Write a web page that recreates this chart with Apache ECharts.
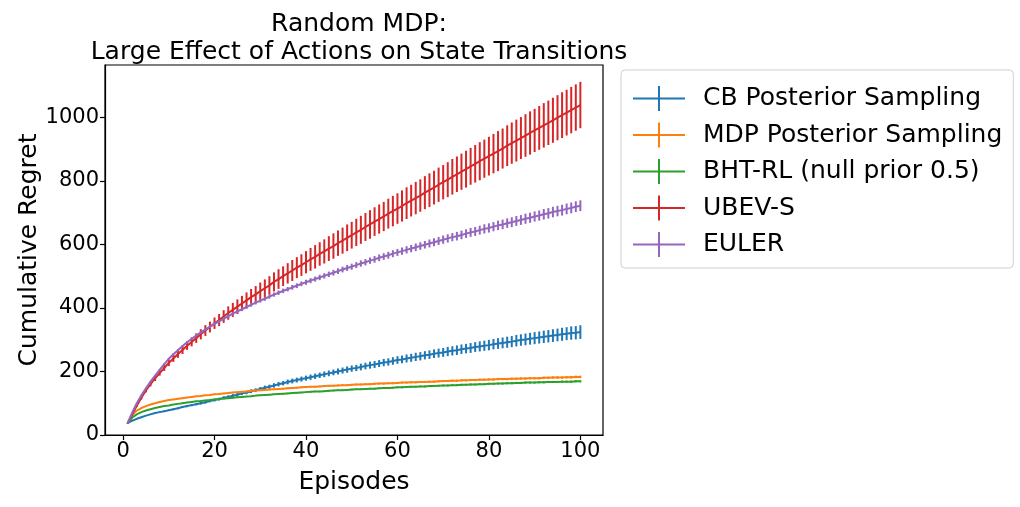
<!DOCTYPE html>
<html>
<head>
<meta charset="utf-8">
<script src="https://cdn.jsdelivr.net/npm/echarts@6/dist/echarts.min.js"></script>
<style>
html,body{margin:0;padding:0;background:#fff;}
#chart{width:1020px;height:507px;}
</style>
</head>
<body>
<div id="chart"></div>
<script>
const episodes = [1,2,3,4,5,6,7,8,9,10,11,12,13,14,15,16,17,18,19,20,21,22,23,24,25,26,27,28,29,30,31,32,33,34,35,36,37,38,39,40,41,42,43,44,45,46,47,48,49,50,51,52,53,54,55,56,57,58,59,60,61,62,63,64,65,66,67,68,69,70,71,72,73,74,75,76,77,78,79,80,81,82,83,84,85,86,87,88,89,90,91,92,93,94,95,96,97,98,99,100];

const seriesNames = ["CB Posterior Sampling","MDP Posterior Sampling","BHT-RL (null prior 0.5)","UBEV-S","EULER"];
const colors = ["#1f77b4","#ff7f0e","#2ca02c","#d62728","#9467bd"];

const cbMean = [37,45,51,56,61,65,69,72,75,78,81,84,88,91,94,97,100,103,107,110,113,117,120,124,127,131,134,138,141,145,149,152,156,160,163,167,170,173,176,179,182,185,188,191,194,197,200,203,206,209,211,214,217,220,222,225,228,230,233,236,238,241,243,246,248,251,253,256,258,260,263,265,267,270,272,274,277,279,281,283,286,288,290,292,294,297,299,301,303,305,307,309,311,313,315,317,319,321,322,324];
const cbErr = [0.5,1,1,1.5,1.5,2,2,2,2.5,2.5,3,3,3,3.5,3.5,3.5,4,4,4,4.5,4.5,5,5,5,5.5,5.5,5.5,6,6,6,6.5,6.5,7,7,7,7.5,7.5,7.5,8,8,8.5,8.5,8.5,9,9,9,9.5,9.5,10,10,10,10.5,10.5,11,11,11,11.5,11.5,12,12,12,12.5,12.5,13,13,13,13.5,13.5,14,14,14.5,14.5,15,15,15,15.5,15.5,16,16,16.5,16.5,17,17,17.5,17.5,18,18,18.5,18.5,19,19,19.5,19.5,20,20,20.5,20.5,21,21,21.5];

const mdpMean = [37,63,77,85,91,96,100,104,107,110,112,114,116,118,120,122,123,125,126,128,129,131,132,134,135,136,137,139,140,141,142,143,144,145,146,147,148,149,150,151,152,152,153,154,155,155,156,157,157,158,159,159,160,160,161,162,162,163,163,164,165,165,166,166,167,167,168,168,169,170,170,171,171,172,172,173,173,174,174,175,175,176,176,176,177,177,178,178,179,179,179,180,180,181,181,181,182,182,183,183];
const mdpErr = [0.5,0.8,1,1,1.2,1.2,1.3,1.4,1.5,1.5,1.6,1.6,1.7,1.7,1.8,1.8,1.9,1.9,2,2,2,2.1,2.1,2.1,2.2,2.2,2.2,2.3,2.3,2.3,2.4,2.4,2.4,2.5,2.5,2.5,2.5,2.6,2.6,2.6,2.6,2.7,2.7,2.7,2.7,2.8,2.8,2.8,2.8,2.9,2.9,2.9,2.9,3,3,3,3,3,3.1,3.1,3.1,3.1,3.2,3.2,3.2,3.2,3.2,3.3,3.3,3.3,3.3,3.4,3.4,3.4,3.4,3.4,3.5,3.5,3.5,3.5,3.5,3.6,3.6,3.6,3.6,3.6,3.7,3.7,3.7,3.7,3.7,3.8,3.8,3.8,3.8,3.8,3.9,3.9,3.9,4];

const bhtMean = [37,55,65,72,77,81,85,88,91,93,96,98,100,102,104,106,107,109,110,112,113,115,116,117,119,120,121,122,124,125,126,127,128,129,130,131,132,133,134,135,136,137,137,138,139,140,141,141,142,143,144,144,145,146,146,147,148,148,149,150,150,151,152,152,153,153,154,154,155,156,156,157,157,158,158,159,159,160,160,161,161,162,162,163,163,164,164,165,165,165,166,166,167,167,167,168,168,168,169,169];
const bhtErr = [0.5,0.7,0.8,0.9,1,1,1.1,1.1,1.2,1.2,1.3,1.3,1.4,1.4,1.5,1.5,1.5,1.6,1.6,1.6,1.7,1.7,1.7,1.8,1.8,1.8,1.9,1.9,1.9,2,2,2,2,2.1,2.1,2.1,2.1,2.2,2.2,2.2,2.2,2.3,2.3,2.3,2.3,2.4,2.4,2.4,2.4,2.5,2.5,2.5,2.5,2.5,2.6,2.6,2.6,2.6,2.6,2.7,2.7,2.7,2.7,2.7,2.8,2.8,2.8,2.8,2.8,2.9,2.9,2.9,2.9,2.9,3,3,3,3,3,3,3.1,3.1,3.1,3.1,3.1,3.2,3.2,3.2,3.2,3.2,3.3,3.3,3.3,3.3,3.3,3.4,3.4,3.4,3.4,3.5];

const ubevMean = [37,65,92,117,140,160,178,195,211,227,241,255,268,281,293,305,317,329,340,352,362,373,384,394,404,414,424,434,443,453,462,471,482,491,500,509,518,527,535,544,553,561,570,578,587,595,604,612,621,629,638,646,655,663,672,680,688,697,705,713,721,730,738,746,754,763,771,779,788,796,804,813,821,829,837,846,854,862,870,878,886,894,902,911,919,927,935,943,951,959,967,975,983,991,999,1007,1015,1023,1031,1039];
const ubevErr = [1,3,4,5,6,7,8,8,9,10,11,12,13,13,14,15,16,17,17,18,19,20,21,22,23,24,25,26,26,27,28,29,30,31,31,32,33,33,34,35,36,37,37,38,39,40,40,41,42,42,43,44,44,45,45,46,46,47,48,48,49,50,50,51,51,52,53,53,54,54,55,56,56,57,58,58,59,60,60,61,62,63,63,64,65,66,66,67,68,68,69,70,70,71,71,72,72,73,73,73];

const eulerMean = [37,70,100,125,147,168,187,205,223,240,254,267,280,292,303,313,323,332,341,350,358,366,374,382,389,396,403,410,417,423,429,436,442,448,454,459,465,470,476,481,486,491,496,501,506,511,516,521,526,530,535,540,544,549,553,558,562,566,571,575,579,583,587,591,595,599,603,607,611,615,619,623,626,630,634,638,641,645,649,652,656,660,663,667,670,674,677,681,684,688,691,695,698,702,705,708,712,715,719,722];
const eulerErr = [0.5,1,1,1.5,1.5,2,2,2,2.5,2.5,3,3,3,3.5,3.5,3.5,4,4,4,4.5,4.5,5,5,5,5.5,5.5,5.5,6,6,6,6.5,6.5,6.5,7,7,7,7.5,7.5,7.5,8,8,8,8.5,8.5,8.5,9,9,9,9.5,9.5,9.5,10,10,10,10.5,10.5,10.5,11,11,11,11.5,11.5,11.5,12,12,12,12.5,12.5,12.5,13,13,13,13.5,13.5,13.5,14,14,14,14.5,14.5,14.5,15,15,15,15.5,15.5,15.5,16,16,16,16,16.5,16.5,16.5,16.5,17,17,17,17,17];

const xTicks = [0,20,40,60,80,100];
const yTicks = [0,200,400,600,800,1000];

const means = [cbMean, mdpMean, bhtMean, ubevMean, eulerMean];
const errs = [cbErr, mdpErr, bhtErr, ubevErr, eulerErr];

const chart = echarts.init(document.getElementById('chart'), null, {renderer:'canvas'});
const FONT = "DejaVu Sans";

const series = [];
seriesNames.forEach((name, k) => {
  const errData = episodes.map((e, i) => [e, means[k][i], errs[k][i]]);
  series.push({
    name: name,
    type: 'custom',
    data: errData,
    clip: true,
    silent: true,
    z: 2 + k * 2,
    renderItem: function (params, api) {
      const x = api.value(0), y = api.value(1), d = api.value(2);
      const p1 = api.coord([x, y - d]);
      const p2 = api.coord([x, y + d]);
      return {
        type: 'line',
        shape: {x1: p1[0], y1: p1[1], x2: p2[0], y2: p2[1]},
        style: {stroke: colors[k], lineWidth: 2}
      };
    },
    encode: {x: 0, y: 1}
  });
  series.push({
    name: name,
    type: 'line',
    data: episodes.map((e, i) => [e, means[k][i]]),
    showSymbol: false,
    symbol: 'none',
    lineStyle: {color: colors[k], width: 2},
    itemStyle: {color: colors[k]},
    z: 3 + k * 2,
    animation: false
  });
});

const legendIcon = 'path://M0,11.5h52v2h-52z M25,0h2v25h-2z';

chart.setOption({
  animation: false,
  backgroundColor: '#fff',
  textStyle: {fontFamily: FONT},
  title: {
    text: 'Random MDP:\nLarge Effect of Actions on State Transitions',
    left: 354,
    textAlign: 'center',
    top: 5,
    textStyle: {fontFamily: FONT, fontSize: 25, fontWeight: 'normal', color: '#000', lineHeight: 28}
  },
  legend: {
    orient: 'vertical',
    left: 621,
    top: 70,
    align: 'left',
    padding: [16, 11, 11, 12],
    itemWidth: 52,
    itemHeight: 25,
    itemGap: 11.5,
    backgroundColor: '#fff',
    borderColor: '#d0d0d0',
    borderWidth: 1,
    borderRadius: 4,
    textStyle: {fontFamily: FONT, fontSize: 25, color: '#000', padding: [0, 0, 0, 13], lineHeight: 25},
    data: seriesNames.map((n, k) => ({name: n, icon: legendIcon, itemStyle: {color: colors[k]}}))
  },
  grid: {
    left: 105, right: 417, top: 65, bottom: 72,
    show: true, borderColor: '#000', borderWidth: 1.2, backgroundColor: 'transparent'
  },
  xAxis: {
    type: 'value',
    min: -3.95,
    max: 104.95,
    name: 'Episodes',
    nameLocation: 'middle',
    nameGap: 35,
    nameTextStyle: {fontFamily: FONT, fontSize: 25, color: '#000'},
    axisLine: {show: true, onZero: false, lineStyle: {color: '#000', width: 1.2}},
    axisTick: {show: true, inside: false, length: 5, lineStyle: {color: '#000', width: 1.2}, customValues: xTicks},
    axisLabel: {fontFamily: FONT, fontSize: 21, color: '#000', margin: 6, customValues: xTicks, formatter: v => String(v)},
    splitLine: {show: false}
  },
  yAxis: {
    type: 'value',
    min: 0,
    max: 1165,
    name: 'Cumulative Regret',
    nameLocation: 'middle',
    nameGap: 60,
    nameTextStyle: {fontFamily: FONT, fontSize: 25, color: '#000'},
    axisLine: {show: true, onZero: false, lineStyle: {color: '#000', width: 1.2}},
    axisTick: {show: true, inside: false, length: 5, lineStyle: {color: '#000', width: 1.2}, customValues: yTicks},
    axisLabel: {fontFamily: FONT, fontSize: 21, color: '#000', margin: 6, customValues: yTicks, formatter: v => String(v)},
    splitLine: {show: false}
  },
  series: series
});
</script>
</body>
</html>
